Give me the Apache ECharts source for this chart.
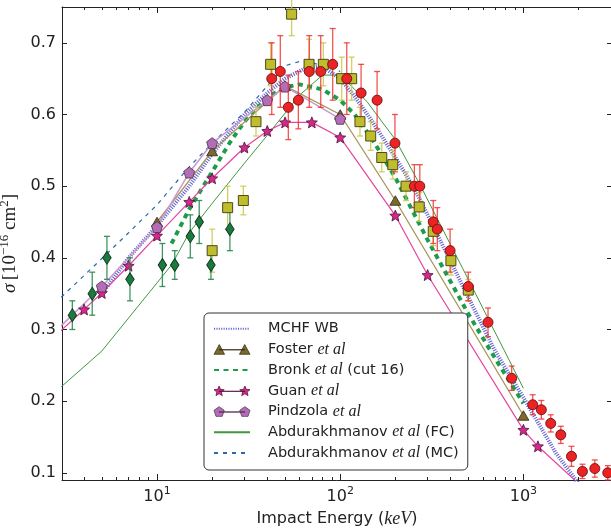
<!DOCTYPE html>
<html><head><meta charset="utf-8">
<script src="https://cdn.jsdelivr.net/npm/echarts@6/dist/echarts.min.js"></script>
<style>html,body{margin:0;padding:0;background:#fff}#c{width:611px;height:528px}</style>
</head><body><div id="c"></div>
<script>
// ---------------- data ----------------
// experimental: red circles
const redE   = [42.3, 47.1, 52.1, 59.1, 67.8, 78.3, 91.0, 108.6, 130, 159, 199, 254, 272, 322, 339, 398, 500, 641, 863, 1124, 1253, 1410, 1600, 1830, 2100, 2453, 2887];
const redS   = [0.65, 0.66, 0.61, 0.62, 0.66, 0.66, 0.67, 0.65, 0.63, 0.62, 0.56, 0.50, 0.50, 0.45, 0.44, 0.41, 0.36, 0.31, 0.232, 0.195, 0.188, 0.169, 0.153, 0.123, 0.102, 0.106, 0.100];
const redErr = [0.05, 0.05, 0.045, 0.04, 0.05, 0.05, 0.05, 0.05, 0.04, 0.04, 0.04, 0.03, 0.03, 0.03, 0.03, 0.03, 0.02, 0.02, 0.017, 0.014, 0.013, 0.012, 0.012, 0.014, 0.01, 0.012, 0.01];
// experimental: yellow squares
const sqE   = [20, 24.3, 29.6, 34.7, 41.7, 54.3, 67.6, 80.9, 101.9, 115.5, 128.2, 146.7, 168.6, 193.6, 228.6, 270, 322, 402, 500];
const sqS   = [0.41, 0.47, 0.48, 0.59, 0.67, 0.74, 0.67, 0.67, 0.65, 0.65, 0.59, 0.57, 0.54, 0.53, 0.50, 0.471, 0.437, 0.396, 0.355];
const sqErr = [0.03, 0.03, 0.02, 0.02, 0.03, 0.03, 0.035, 0.03, 0.03, 0.03, 0.02, 0.02, 0.02, 0.02, 0.02, 0.02, 0.02, 0.02, 0.015];
// experimental: green diamonds
const dmE   = [3.45, 4.43, 5.33, 7.12, 10.7, 12.5, 15.2, 17.0, 19.7, 25.0];
const dmS   = [0.32, 0.35, 0.40, 0.37, 0.39, 0.39, 0.43, 0.45, 0.39, 0.44];
const dmErr = [0.02, 0.03, 0.03, 0.03, 0.03, 0.02, 0.03, 0.03, 0.02, 0.03];
// theory
const mchfE  = [5, 7, 10, 15, 20, 30, 40, 50, 65, 80, 100, 120, 150, 200, 250, 300, 500, 700, 1000, 1500, 2000];
const mchfS  = [0.35, 0.40, 0.445, 0.50, 0.545, 0.60, 0.63, 0.65, 0.665, 0.667, 0.65, 0.625, 0.59, 0.54, 0.50, 0.46, 0.345, 0.27, 0.205, 0.128, 0.085];
const fosterE = [10, 20, 50, 100, 200, 1000];
const fosterS = [0.45, 0.549, 0.64, 0.60, 0.48, 0.18];
const bronkE = [12, 15, 20, 25, 30, 40, 50, 60, 80, 100, 120, 150, 200, 300, 500, 700, 1000];
const bronkS = [0.42, 0.468, 0.52, 0.561, 0.59, 0.624, 0.638, 0.642, 0.635, 0.62, 0.60, 0.565, 0.512, 0.425, 0.322, 0.26, 0.197];
const guanE = [2, 4, 5, 7, 10, 15, 20, 30, 40, 50, 70, 100, 200, 300, 1000, 1200, 2000];
const guanS = [0.258, 0.328, 0.351, 0.389, 0.431, 0.478, 0.511, 0.554, 0.577, 0.589, 0.589, 0.568, 0.459, 0.376, 0.160, 0.137, 0.085];
const pindE = [2, 5, 10, 15, 20, 40, 50, 100];
const pindS = [0.262, 0.36, 0.443, 0.519, 0.56, 0.62, 0.639, 0.594];
const fcE = [3, 5, 10, 12, 15, 20, 30, 40, 60, 80, 100, 140, 200, 270, 500, 1000];
const fcS = [0.22, 0.27, 0.365, 0.39, 0.435, 0.476, 0.532, 0.571, 0.627, 0.655, 0.655, 0.618, 0.565, 0.504, 0.37, 0.218];
const mcE = [3, 5, 7, 10, 15, 20, 30, 40, 50, 60, 70, 90, 100];
const mcS = [0.345, 0.399, 0.435, 0.474, 0.527, 0.56, 0.603, 0.64, 0.668, 0.674, 0.672, 0.665, 0.66];
// axes / labels
const xMajorTicks = [10, 100, 1000];
const xMinorTicks = [4, 5, 6, 7, 8, 9, 20, 30, 40, 50, 60, 70, 80, 90, 200, 300, 400, 500, 600, 700, 800, 900, 2000, 3000];
const yTicks = [0.1, 0.2, 0.3, 0.4, 0.5, 0.6, 0.7];
const legendNames = ['MCHF WB', 'Foster et al', 'Bronk et al (cut 16)', 'Guan et al', 'Pindzola et al', 'Abdurakhmanov et al (FC)', 'Abdurakhmanov et al (MC)'];
const X_MIN = 3.03, X_MAX = 3045, Y_MIN = 0.09, Y_MAX = 0.75;

// ---------------- helpers ----------------
const pairs = (xs, ys) => xs.map((x, i) => [x, ys[i]]);
const triples = (xs, ys, es) => xs.map((x, i) => [x, ys[i], es[i]]);
function poly(type, cx, cy, r) {
  const p = [];
  if (type === 'tri') { p.push([cx, cy - r], [cx + r, cy + 0.85 * r], [cx - r, cy + 0.85 * r]); }
  else if (type === 'star') { for (let k = 0; k < 10; k++) { const a = -Math.PI / 2 + k * Math.PI / 5, rr = k % 2 ? r * 0.45 : r; p.push([cx + rr * Math.cos(a), cy + rr * Math.sin(a)]); } }
  else if (type === 'pent') { for (let k = 0; k < 5; k++) { const a = -Math.PI / 2 + k * 2 * Math.PI / 5; p.push([cx + r * Math.cos(a), cy + r * Math.sin(a)]); } }
  return p;
}
const toPath = polys => polys.map(p => 'M' + p.map(q => q[0].toFixed(2) + ' ' + q[1].toFixed(2)).join(' L') + ' Z').join(' ');
const starSym = 'path://' + toPath([poly('star', 0, 0, 10)]);
const pentSym = 'path://' + toPath([poly('pent', 0, 0, 10)]);
const legendIcon = t => 'path://' + toPath([poly(t, 6, 6, 5), [[6, 5.85], [30, 5.85], [30, 6.15], [6, 6.15]], poly(t, 30, 6, 5)]);

function errRender(color, cap) {
  return function (params, api) {
    const x = api.value(0), y = api.value(1), e = api.value(2);
    const p1 = api.coord([x, y + e]), p2 = api.coord([x, y - e]);
    const style = { stroke: color, lineWidth: 1.3 };
    return { type: 'group', children: [
      { type: 'line', shape: { x1: p1[0], y1: p1[1], x2: p2[0], y2: p2[1] }, style },
      { type: 'line', shape: { x1: p1[0] - cap, y1: p1[1], x2: p1[0] + cap, y2: p1[1] }, style },
      { type: 'line', shape: { x1: p2[0] - cap, y1: p2[1], x2: p2[0] + cap, y2: p2[1] }, style }
    ] };
  };
}

const AX = '#222';
const xBase = { type: 'log', logBase: 10, min: X_MIN, max: X_MAX, gridIndex: 0, splitLine: { show: false },
  axisLine: { onZero: false, lineStyle: { color: AX, width: 1 } } };
const yBase = { type: 'value', min: Y_MIN, max: Y_MAX, splitLine: { show: false },
  axisLine: { show: true, onZero: false, lineStyle: { color: AX, width: 1 } },
  axisTick: { show: true, inside: true, length: 5, customValues: yTicks, lineStyle: { color: AX } } };

const markerLegend = { 1: 'tri', 3: 'star', 4: 'pent' };
const chart = echarts.init(document.getElementById('c'), null, { renderer: 'canvas' });
chart.setOption({
  animation: false,
  backgroundColor: '#fff',
  grid: { left: 62, right: -1, top: 7, bottom: 48, containLabel: false, outerBoundsMode: 'none' },
  xAxis: [
    Object.assign({}, xBase, { position: 'bottom',
      axisTick: { show: true, inside: true, length: 6, customValues: xMajorTicks, lineStyle: { color: AX } },
      axisLabel: { show: true, customValues: xMajorTicks, margin: 6,
        formatter: v => '{b|10}{s|' + Math.round(Math.log10(v)) + '}',
        rich: { b: { fontFamily: 'DejaVu Sans', fontSize: 16, color: '#222', lineHeight: 19, verticalAlign: 'bottom' },
                s: { fontFamily: 'DejaVu Sans', fontSize: 11, color: '#222', lineHeight: 11, verticalAlign: 'top' } } },
      name: '{n|Impact Energy (}{i|keV}{n|)}', nameLocation: 'middle', nameGap: 27,
      nameTextStyle: { rich: { n: { fontFamily: 'DejaVu Sans', fontSize: 16, color: '#222', lineHeight: 20 },
                               i: { fontFamily: 'Liberation Serif', fontStyle: 'italic', fontSize: 18, color: '#222', lineHeight: 20 } } } }),
    Object.assign({}, xBase, { position: 'bottom', axisLine: { show: false },
      axisTick: { show: true, inside: true, length: 3, customValues: xMinorTicks, lineStyle: { color: AX } }, axisLabel: { show: false } }),
    Object.assign({}, xBase, { position: 'top',
      axisTick: { show: true, inside: true, length: 6, customValues: xMajorTicks, lineStyle: { color: AX } }, axisLabel: { show: false } }),
    Object.assign({}, xBase, { position: 'top', axisLine: { show: false },
      axisTick: { show: true, inside: true, length: 3, customValues: xMinorTicks, lineStyle: { color: AX } }, axisLabel: { show: false } })
  ],
  yAxis: [
    Object.assign({}, yBase, { position: 'left',
      axisLabel: { show: true, customValues: yTicks, formatter: v => v.toFixed(1), fontFamily: 'DejaVu Sans', fontSize: 16, color: '#222', margin: 6 },
      name: '{s|σ} {t|[10}{u|−16}{t| cm}{u|2}{t|]}', nameLocation: 'middle', nameGap: 31, nameRotate: 90,
      nameTextStyle: { rich: {
        s: { fontFamily: 'Liberation Serif', fontStyle: 'italic', fontSize: 19, color: '#222', lineHeight: 22, verticalAlign: 'bottom' },
        t: { fontFamily: 'Liberation Serif', fontSize: 19, color: '#222', lineHeight: 22, verticalAlign: 'bottom' },
        u: { fontFamily: 'Liberation Serif', fontSize: 13, color: '#222', lineHeight: 13, verticalAlign: 'top' } } } }),
    Object.assign({}, yBase, { position: 'right', axisLabel: { show: false } })
  ],
  legend: {
    data: legendNames.map((n, i) => markerLegend[i]
      ? { name: n, icon: legendIcon(markerLegend[i]), itemStyle: { borderWidth: 0.7 } }
      : { name: n, itemStyle: { opacity: 0 } }),
    orient: 'vertical', left: 204, top: 313, itemWidth: 36, itemHeight: 11, itemGap: 2.7,
    padding: [6.7, 9, 8.1, 9], backgroundColor: '#fff', borderColor: '#333', borderWidth: 1, borderRadius: 5,
    selectedMode: false, z: 10,
    formatter: n => n.replace(' et al', ' {i|et al}'),
    textStyle: { fontFamily: 'DejaVu Sans', fontSize: 14.5, color: '#222', lineHeight: 18, padding: [0, 0, 0, 13],
      rich: { i: { fontFamily: 'Liberation Serif', fontStyle: 'italic', fontSize: 16, color: '#222', lineHeight: 18 } } }
  },
  series: [
    { name: 'MCHF WB', type: 'line', data: pairs(mchfE, mchfS), symbol: 'none', z: 2,
      itemStyle: { color: '#6565d2' }, lineStyle: { color: '#6565d2', width: 4, type: [1.1, 1.3], cap: 'butt' } },
    { name: 'Foster et al', type: 'line', data: pairs(fosterE, fosterS), symbol: 'triangle', symbolSize: [11, 9.5], z: 3,
      itemStyle: { color: '#7b6a2a', borderColor: '#2b2510', borderWidth: 0.8 }, lineStyle: { color: '#a8955a', width: 1.3 } },
    { name: 'Bronk et al (cut 16)', type: 'line', data: pairs(bronkE, bronkS), symbol: 'none', z: 2,
      itemStyle: { color: '#1c9c4c' }, lineStyle: { color: '#1c9c4c', width: 4, type: [5, 4.5], cap: 'butt' } },
    { name: 'Guan et al', type: 'line', data: pairs(guanE, guanS), symbol: starSym, symbolSize: 11, z: 3,
      itemStyle: { color: '#d4288c', borderColor: '#4a1035', borderWidth: 0.8 }, lineStyle: { color: '#e6449f', width: 1.2 } },
    { name: 'Pindzola et al', type: 'line', data: pairs(pindE, pindS), symbol: pentSym, symbolSize: 11, z: 3,
      itemStyle: { color: '#b36db6', borderColor: '#4a2a4a', borderWidth: 0.8 }, lineStyle: { color: '#c99ad0', width: 1.5 } },
    { name: 'Abdurakhmanov et al (FC)', type: 'line', data: pairs(fcE, fcS), symbol: 'none', z: 2,
      itemStyle: { color: '#3f973f' }, lineStyle: { color: '#3f973f', width: 1 } },
    { name: 'Abdurakhmanov et al (MC)', type: 'line', data: pairs(mcE, mcS), symbol: 'none', z: 2,
      itemStyle: { color: '#2d6aa3' }, lineStyle: { color: '#2d6aa3', width: 1.2, type: [4, 5] } },
    // experimental error bars
    { type: 'custom', data: triples(sqE, sqS, sqErr), encode: { x: 0, y: 1 }, renderItem: errRender('rgba(200,200,70,0.85)', 3), z: 4, silent: true },
    { type: 'custom', data: triples(redE, redS, redErr), encode: { x: 0, y: 1 }, renderItem: errRender('rgba(240,40,40,0.8)', 3), z: 4, silent: true },
    { type: 'custom', data: triples(dmE, dmS, dmErr), encode: { x: 0, y: 1 }, renderItem: errRender('rgba(30,130,70,0.85)', 3), z: 4, silent: true },
    // experimental markers
    { type: 'scatter', data: pairs(sqE, sqS), symbol: 'rect', symbolSize: 10, z: 5,
      itemStyle: { color: '#c0bd2c', borderColor: '#3d3b10', borderWidth: 0.9, opacity: 1 } },
    { type: 'scatter', data: pairs(redE, redS), symbol: 'circle', symbolSize: 10, z: 6,
      itemStyle: { color: '#ec2324', borderColor: '#6e1010', borderWidth: 0.9, opacity: 1 } },
    { type: 'scatter', data: pairs(dmE, dmS), symbol: 'diamond', symbolSize: [8.5, 13], z: 6,
      itemStyle: { color: '#1b7a3e', borderColor: '#0b3518', borderWidth: 0.9, opacity: 1 } }
  ]
});
</script></body></html>
